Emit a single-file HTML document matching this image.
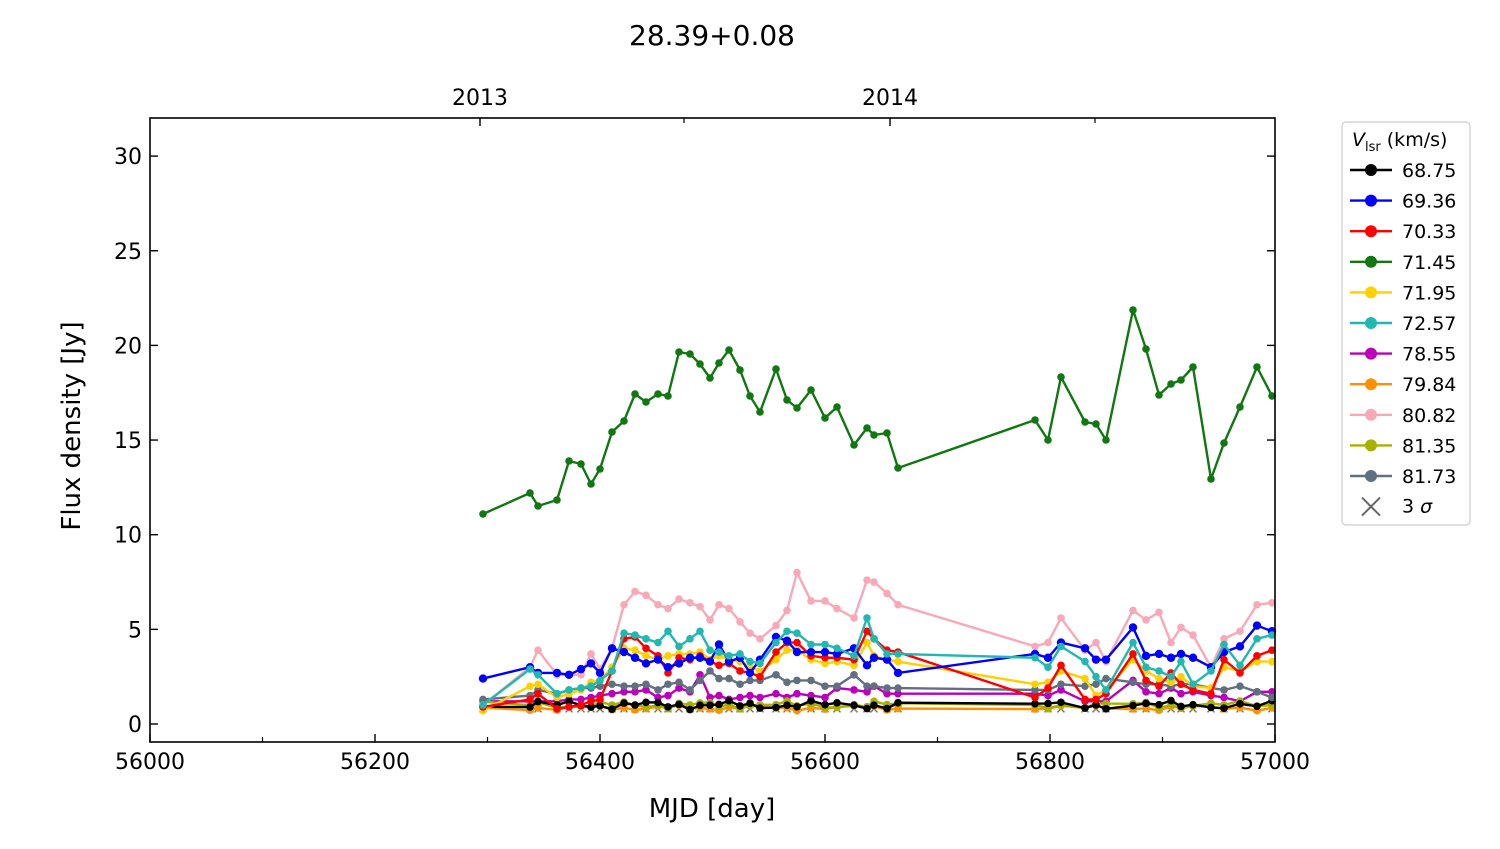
<!DOCTYPE html>
<html><head><meta charset="utf-8"><style>
body{margin:0;background:#fff}
svg text{font-family:"DejaVu Sans","Liberation Sans",sans-serif;fill:#000}
</style></head><body>
<svg id="s" width="1500" height="844" xmlns="http://www.w3.org/2000/svg">
<rect width="1500" height="844" fill="#fff"/>
<text x="712" y="45" font-size="28" text-anchor="middle">28.39+0.08</text>
<text x="712" y="817" font-size="26" text-anchor="middle">MJD [day]</text>
<text transform="translate(80,426) rotate(-90)" font-size="26" text-anchor="middle">Flux density [Jy]</text>
<text x="480" y="105" font-size="22" text-anchor="middle">2013</text>
<text x="890" y="105" font-size="22" text-anchor="middle">2014</text>
<g id="ax"></g>
<g id="data"></g>
<rect x="150" y="118" width="1125" height="624" fill="none" stroke="#000" stroke-width="1.6"/>
<g id="leg"></g>
</svg>
<script>
const NS="http://www.w3.org/2000/svg";
function el(p,t,a,txt){const e=document.createElementNS(NS,t);for(const k in a)e.setAttribute(k,a[k]);if(txt!==undefined)e.textContent=txt;p.appendChild(e);return e;}
const ax=document.getElementById('ax'),dg=document.getElementById('data'),lg=document.getElementById('leg');
const X=m=>150+(m-56000)*1.125, Y=f=>724-18.93*f;
for(let m=56000;m<=57000;m+=200){const x=X(m);el(ax,'line',{x1:x,x2:x,y1:742,y2:734,stroke:'#000','stroke-width':1.4});el(ax,'text',{x:x,y:769,'font-size':22,'text-anchor':'middle'},m);}
for(let m=56100;m<57000;m+=200){const x=X(m);el(ax,'line',{x1:x,x2:x,y1:742,y2:737,stroke:'#000','stroke-width':1.2});}
[480,890].forEach(x=>el(ax,'line',{x1:x,x2:x,y1:118,y2:126,stroke:'#000','stroke-width':1.4}));
[684,1095].forEach(x=>el(ax,'line',{x1:x,x2:x,y1:118,y2:123,stroke:'#000','stroke-width':1.2}));
for(let f=0;f<=30;f+=5){const y=Y(f);el(ax,'line',{x1:150,x2:158,y1:y,y2:y,stroke:'#000','stroke-width':1.4});el(ax,'line',{x1:1267,x2:1275,y1:y,y2:y,stroke:'#000','stroke-width':1.4});el(ax,'text',{x:142,y:y+8,'font-size':22,'text-anchor':'end'},f);}
const xs=[483,530,538,557,569,581,591,600,612,624,635,646,658,668,679,690,700,710,719,729,740,750,760,776,787,797,811,825,837,854,867,874,887,898,1035,1048,1061,1085,1096,1106,1133,1146,1159,1171,1181,1193,1211,1224,1240,1257,1272];
const gy=[514,493,506,500,461,464,484,469,432,421,394,402,394,396,352,354,364,378,363,350,370,396,412,369,400,408,390,418,407,445,428,435,433,468,420,440,377,422,424,440,310,349,395,384,380,367,479,443,407,367,396];
function wav(base,amp,seed){return xs.map((x,i)=>base+amp*Math.sin(i*1.7+seed)*Math.cos(i*0.9+seed*2));}
const S=[
["68.75","#000",wav(1.0,0.25,1)],
["69.36","#0000ff",[2.4,3.0,2.7,2.7,2.6,2.9,3.2,2.7,4.0,3.8,3.5,3.2,3.4,3.0,3.2,3.5,3.5,3.3,4.2,3.3,3.5,2.7,3.4,4.6,4.4,3.8,3.8,3.8,3.7,4.0,3.1,3.5,3.4,2.7,3.7,3.5,4.3,4.0,3.4,3.4,5.1,3.6,3.7,3.5,3.7,3.5,3.0,3.8,4.1,5.2,4.9]],
["70.33","#ff0000",[0.9,1.3,1.6,0.8,0.9,1.0,1.2,1.3,2.8,4.5,4.6,4.0,3.6,2.7,3.5,3.4,3.6,3.3,3.1,3.2,2.8,2.7,2.5,3.8,4.3,4.3,3.6,3.5,3.5,3.4,4.9,4.5,3.9,3.8,1.4,1.9,3.1,1.3,1.3,1.6,3.7,2.3,2.0,2.7,2.1,1.8,1.6,3.4,2.7,3.6,3.9]],
["71.45","#117711",gy.map(y=>(724-y)/18.93)],
["71.95","#ffd000",[0.7,2.0,2.1,1.4,1.6,1.8,2.2,2.3,3.0,4.0,3.9,3.6,3.4,3.6,3.7,3.7,3.8,3.4,3.6,3.4,3.3,3.0,2.8,3.4,3.9,3.9,3.4,3.2,3.3,3.1,4.3,3.6,3.4,3.3,2.1,2.2,2.8,2.4,1.5,1.8,3.4,2.8,2.4,2.2,2.5,2.0,1.9,3.0,2.8,3.3,3.3]],
["72.57","#20b8b0",[1.0,2.9,2.6,1.6,1.8,1.9,2.0,2.3,2.8,4.8,4.7,4.5,4.3,4.9,4.1,4.5,4.9,3.9,3.8,3.6,3.7,3.3,3.2,4.3,4.9,4.8,4.2,4.2,4.0,3.6,5.6,4.5,3.7,3.7,3.5,3.0,4.1,3.3,2.5,1.8,4.3,3.0,2.8,2.5,3.3,2.1,2.8,4.2,3.1,4.5,4.7]],
["78.55","#bb00bb",[1.2,1.2,1.2,1.2,1.3,1.3,1.4,1.5,1.6,1.7,1.7,1.8,1.4,1.5,1.9,1.7,2.6,1.4,1.5,1.3,1.4,1.5,1.4,1.6,1.4,1.6,1.5,1.4,1.9,1.8,1.7,2.0,1.6,1.6,1.6,1.5,1.8,1.2,1.2,1.2,2.3,1.7,1.6,1.9,1.6,1.7,1.5,1.4,1.2,1.7,1.7]],
["79.84","#ff9000",wav(0.85,0.15,3)],
["80.82","#f8a8b8",[1.0,3.0,3.9,2.6,2.6,2.6,3.7,2.9,4.0,6.3,7.0,6.8,6.3,6.1,6.6,6.4,6.2,5.5,6.3,6.1,5.4,4.8,4.5,5.2,6.0,8.0,6.5,6.5,6.1,5.6,7.6,7.5,6.9,6.3,4.1,4.3,5.6,3.9,4.3,3.3,6.0,5.5,5.9,4.3,5.1,4.7,3.0,4.5,4.9,6.3,6.4]],
["81.35","#a8b000",wav(1.0,0.22,5)],
["81.73","#607080",[1.3,1.5,1.8,1.6,1.8,1.9,1.9,2.0,2.1,2.0,2.0,2.1,1.8,2.1,2.2,1.8,2.3,2.8,2.4,2.4,2.1,2.3,2.3,2.6,2.2,2.3,2.3,2.0,2.0,2.6,2.0,2.0,1.9,1.9,1.8,1.8,2.1,2.0,2.1,2.4,2.2,2.1,2.1,2.0,2.1,2.1,1.9,1.8,2.0,1.7,1.4]]
];
const order=[6,7,9,0,10,8,4,2,1,5,3];
xs.forEach((x,i)=>{const y=Y(0.8);el(dg,'path',{d:`M${x-3.5},${y-3.5}L${x+3.5},${y+3.5}M${x-3.5},${y+3.5}L${x+3.5},${y-3.5}`,stroke:'#777','stroke-width':1.5});});
order.forEach(k=>{const [n,c,v]=S[k];const pts=xs.map((x,i)=>[x,Y(v[i])]);
el(dg,'polyline',{points:pts.map(p=>p.join(',')).join(' '),fill:'none',stroke:c,'stroke-width':2.4,'stroke-linejoin':'round'});
pts.forEach(p=>el(dg,'circle',{cx:p[0],cy:p[1],r:k==1?4.2:3.8,fill:c}));});
el(lg,'rect',{x:1342,y:122,width:128,height:403,rx:4,fill:'#fff',stroke:'#ccc','stroke-width':1.2});
const t=el(lg,'text',{x:1352,y:146,'font-size':19});
el(t,'tspan',{'font-style':'italic'},'V');el(t,'tspan',{dy:5,'font-size':13},'lsr');el(t,'tspan',{dy:-5},' (km/s)');
S.forEach(([n,c],i)=>{const y=170+i*30.6;el(lg,'line',{x1:1350,x2:1392,y1:y,y2:y,stroke:c,'stroke-width':2.4});el(lg,'circle',{cx:1371,cy:y,r:6,fill:c});el(lg,'text',{x:1402,y:y+7,'font-size':19},n);});
const yy=170+11*30.6;el(lg,'path',{d:`M1362,${yy-9}L1380,${yy+9}M1362,${yy+9}L1380,${yy-9}`,stroke:'#666','stroke-width':2});
const t2=el(lg,'text',{x:1402,y:yy+6,'font-size':19},'3 ');el(t2,'tspan',{'font-style':'italic'},'σ');
</script>
</body></html>
